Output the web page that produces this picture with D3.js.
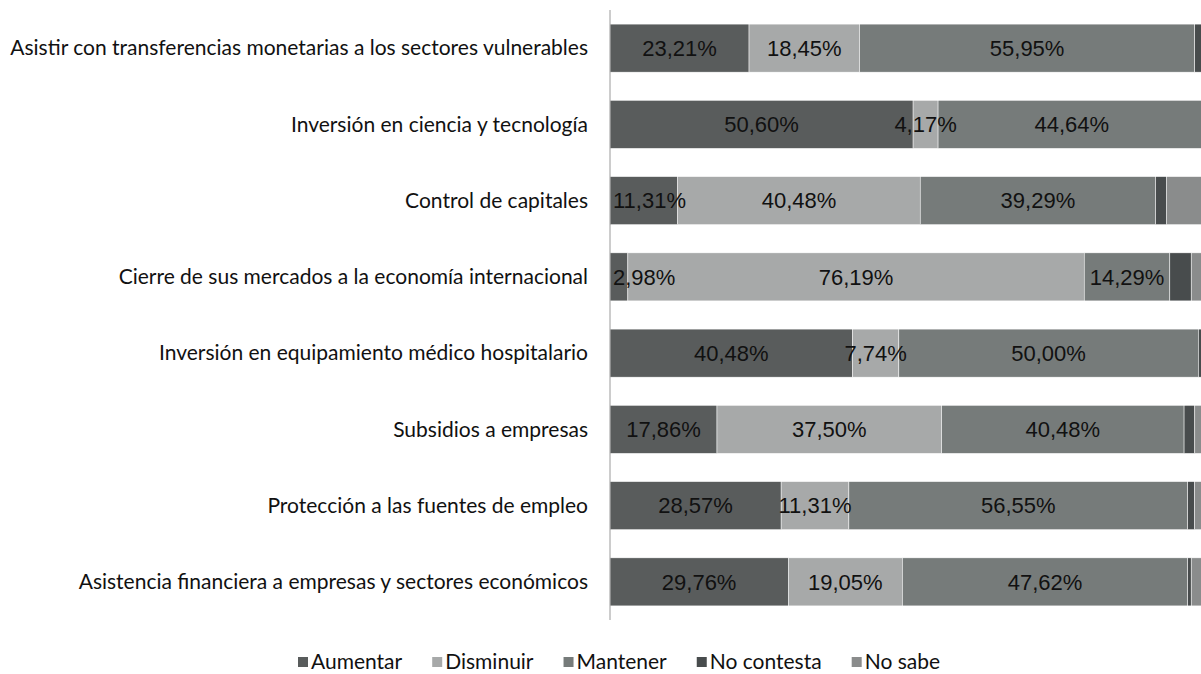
<!DOCTYPE html>
<html>
<head>
<meta charset="utf-8">
<script src="https://cdn.jsdelivr.net/npm/d3@7"></script>
<style>
  html, body { margin: 0; padding: 0; background: #fff; overflow: hidden; }
  svg { display: block; }
</style>
</head>
<body>
<svg id="chart" width="1201" height="674"></svg>
<script>
// Categories, top to bottom
const categories = [
  "Asistir con transferencias monetarias a los sectores vulnerables",
  "Inversión en ciencia y tecnología",
  "Control de capitales",
  "Cierre de sus mercados a la economía internacional",
  "Inversión en equipamiento médico hospitalario",
  "Subsidios a empresas",
  "Protección a las fuentes de empleo",
  "Asistencia financiera a empresas y sectores económicos"
];

// Series (percent of respondents)
const seriesNames = ["Aumentar", "Disminuir", "Mantener", "No contesta", "No sabe"];
const aumentar   = [23.21, 50.60, 11.31,  2.98, 40.48, 17.86, 28.57, 29.76];
const disminuir  = [18.45,  4.17, 40.48, 76.19,  7.74, 37.50, 11.31, 19.05];
const mantener   = [55.95, 44.64, 39.29, 14.29, 50.00, 40.48, 56.55, 47.62];
const noContesta = [ 1.19,  0.00,  1.79,  3.57,  0.60,  1.79,  1.19,  0.60];
const noSabe     = [ 1.19,  0.60,  7.14,  2.98,  1.19,  2.38,  2.38,  2.98];

// Only these series carry value labels
const labelledSeries = ["Aumentar", "Disminuir", "Mantener"];

const colors = ["#595c5c", "#a7a9a9", "#767b7a", "#484c4d", "#8a8c8c"];

const rows = categories.map((c, i) => ({
  category: c,
  "Aumentar": aumentar[i],
  "Disminuir": disminuir[i],
  "Mantener": mantener[i],
  "No contesta": noContesta[i],
  "No sabe": noSabe[i]
}));

const svg = d3.select("#chart");
const axisX = 610;

const x = d3.scaleLinear().domain([0, 100]).range([axisX, 1209]);
const y = d3.scaleBand().domain(categories).range([10, 620])
  .paddingInner(0.37).paddingOuter(0.185);
const color = d3.scaleOrdinal().domain(seriesNames).range(colors);

const stacked = d3.stack().keys(seriesNames)(rows);

const fmt = v => v.toFixed(2).replace(".", ",") + "%";

// Bars
const layers = svg.append("g").selectAll("g")
  .data(stacked).join("g")
  .attr("fill", d => color(d.key));

layers.selectAll("rect")
  .data(d => d.map(s => ({ key: d.key, s })))
  .join("rect")
  .attr("x", d => x(d.s[0]))
  .attr("y", d => y(d.s.data.category))
  .attr("width", d => Math.max(0, x(d.s[1]) - x(d.s[0])))
  .attr("height", y.bandwidth())
  .attr("stroke", "#ffffff")
  .attr("stroke-width", 0.5);

// Value labels
const valueFont = 22;
stacked.filter(l => labelledSeries.includes(l.key)).forEach(layer => {
  layer.forEach(s => {
    const v = s[1] - s[0];
    const t = svg.append("text")
      .attr("font-family", "'Liberation Sans', Arial, sans-serif")
      .attr("font-size", valueFont)
      .attr("fill", "#111")
      .attr("text-anchor", "middle")
      .attr("y", y(s.data.category) + y.bandwidth() / 2)
      .attr("dy", "0.35em")
      .text(fmt(v));
    const w = t.node().getComputedTextLength();
    const cx = Math.max((x(s[0]) + x(s[1])) / 2, axisX + 3 + w / 2);
    t.attr("x", cx);
  });
});

// Vertical axis line
svg.append("line")
  .attr("x1", axisX).attr("x2", axisX)
  .attr("y1", 10).attr("y2", 620)
  .attr("stroke", "#9a9a9a").attr("stroke-width", 1);

// Category labels
const labelFont = "Lato, 'Open Sans', sans-serif";
const catG = svg.append("g");
const catLabels = catG.selectAll("text")
  .data(categories).join("text")
  .attr("font-family", labelFont)
  .attr("font-size", 20)
  .attr("fill", "#111")
  .attr("text-anchor", "end")
  .attr("x", 588)
  .attr("y", d => y(d) + y.bandwidth() / 2)
  .attr("dy", "0.35em")
  .text(d => d);

// Fit the longest label into the space left of the axis
const longest = d3.max(catLabels.nodes(), n => n.getComputedTextLength());
const catSize = 20 * 578 / longest;
catLabels.attr("font-size", catSize);

// Legend
const legend = svg.append("g");
let lx = 298;
seriesNames.forEach(name => {
  const g = legend.append("g");
  g.append("rect")
    .attr("x", lx).attr("y", 657)
    .attr("width", 10).attr("height", 10)
    .attr("fill", color(name));
  const t = g.append("text")
    .attr("font-family", labelFont)
    .attr("font-size", catSize)
    .attr("fill", "#111")
    .attr("x", lx + 13)
    .attr("y", 662)
    .attr("dy", "0.35em")
    .text(name);
  lx += 13 + t.node().getComputedTextLength() + 30;
});
</script>
</body>
</html>
